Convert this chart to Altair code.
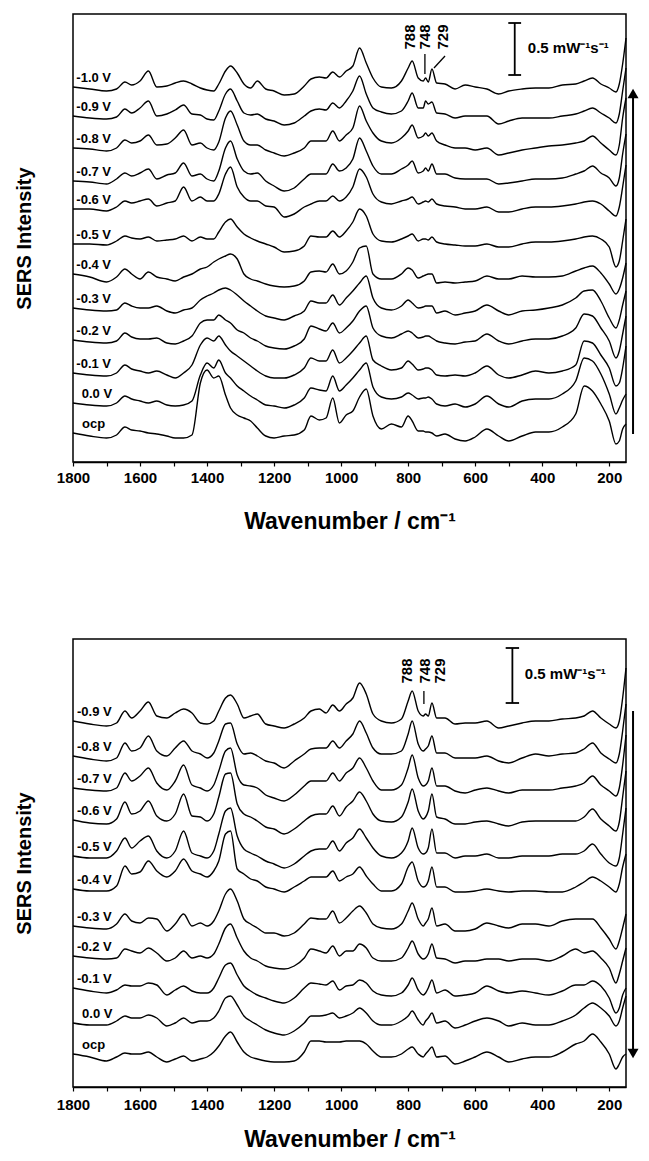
import altair as alt
import pandas as pd

FONT = "Liberation Sans"

# ---------------- data ----------------
wavenumber = [1800, 1750, 1700, 1670, 1645, 1625, 1600, 1575, 1550, 1520,
              1495, 1470, 1445, 1420, 1400, 1380, 1365, 1345, 1330, 1310,
              1290, 1270, 1250, 1225, 1200, 1170, 1140, 1110, 1090, 1065,
              1045, 1025, 1005, 985, 965, 945, 925, 905, 880, 850,
              820, 800, 788, 770, 755, 748, 740, 729, 715, 690,
              660, 630, 600, 565, 530, 500, 460, 420, 380, 340,
              300, 275, 250, 225, 200, 180, 170, 160, 150]

# upper panel (stacked, offsets in display intensity units)
top_labels = ["-1.0 V", "-0.9 V", "-0.8 V", "-0.7 V", "-0.6 V", "-0.5 V",
              "-0.4 V", "-0.3 V", "-0.2 V", "-0.1 V", "0.0 V", "ocp"]
top_offsets = [375, 346, 314, 281, 253, 218, 188, 154, 122, 89, 59, 29]

top_m10 = [0, -2, -4, -2, 5, 2, 6, 16, 0, 1, 4, 6, 3, -1, -3, -4, 3, 16, 21, 14,
           3, -1, 6, -2, -4, -8, -7, 1, 8, 10, 9, 15, 10, 16, 21, 39, 24, 9, 0, -1,
           6, 19, 26, 9, 6, 9, 5, 18, 4, 3, -2, 2, 0, -2, -7, -4, -2, -1, -1, 2,
           3, 6, 9, 3, -1, -5, 3, 23, 49]
top_m09 = [0, -2, -3, -1, 7, 3, 8, 15, 0, 2, 6, 11, 2, 1, -3, -4, 5, 22, 27, 15,
           3, 1, 2, -3, -5, -9, -7, 0, 5, 7, 6, 13, 8, 15, 25, 40, 22, 8, 4, 2,
           5, 15, 23, 8, 8, 15, 12, 14, 3, 2, -2, 0, 0, 0, -8, -5, -2, -2, -2, 0,
           2, 5, 8, 3, -2, -7, 2, 25, 48]
top_m08 = [0, -1, -3, 0, 8, 5, 7, 13, 3, 4, 10, 18, 3, 5, 0, -2, 6, 30, 37, 23,
           7, 3, 3, -2, -5, -8, -5, 0, 7, 7, 7, 17, 7, 13, 20, 42, 27, 15, 7, 5,
           10, 17, 23, 10, 12, 15, 12, 15, 7, 3, 0, 0, -2, 0, -7, -5, -2, 0, 2, 3,
           5, 7, 12, 5, -2, -7, 3, 30, 50]
top_m07 = [0, -1, -3, 2, 8, 5, 8, 12, 2, 6, 8, 18, 5, 7, 2, 0, 10, 33, 40, 22,
           10, 7, 8, 0, -5, -10, -7, 2, 7, 7, 7, 17, 10, 13, 22, 43, 30, 15, 7, 7,
           12, 16, 20, 8, 10, 13, 10, 17, 7, 7, 3, 2, 2, 2, -3, -2, 0, 2, 2, 3,
           7, 10, 15, 8, 3, -5, 3, 27, 47]
top_m06 = [0, 0, -2, 2, 8, 6, 8, 10, 3, 6, 8, 22, 8, 12, 8, 8, 15, 35, 42, 22,
           12, 8, 8, 3, 2, -8, -5, 2, 5, 8, 8, 13, 8, 12, 22, 40, 32, 15, 7, 5,
           8, 10, 12, 5, 7, 8, 7, 10, 5, 3, 2, 0, 0, 2, -3, -3, 0, 2, 2, 3,
           5, 7, 8, 5, -2, -7, 2, 22, 44]
top_m05 = [0, 0, -1, 3, 8, 6, 5, 7, 3, 4, 5, 8, 3, 7, 5, 5, 12, 22, 25, 17,
           10, 6, 3, 0, -3, -8, -7, -2, 8, 7, 7, 13, 7, 13, 22, 35, 28, 10, 3, 2,
           5, 8, 10, 3, 5, 5, 4, 7, 2, 0, -1, -2, -2, 0, -3, -3, 0, 2, 2, 3,
           5, 7, 8, 5, -3, -23, -17, 3, 25]
top_m04 = [0, -3, -8, -3, 5, 0, -5, 2, -3, -5, -7, -3, 0, 5, 7, 12, 15, 18, 20, 15,
           0, -5, -7, -10, -12, -13, -12, -7, 2, 3, 2, 10, 0, 3, 12, 26, 28, 0, -5, -5,
           0, 6, 4, -4, -2, -1, 0, 0, -9, -8, -9, -8, -7, -2, -5, -5, -2, -3, -3, -2,
           3, 6, 8, 1, -10, -20, -15, -4, 11]
top_m03 = [0, -2, -3, -2, 5, 2, 0, 0, 2, -3, -5, -2, 0, 8, 12, 15, 18, 20, 18, 13,
           7, 2, -3, -8, -10, -12, -8, -3, 7, 5, 5, 13, 3, 10, 17, 25, 32, 10, 0, -2,
           2, 8, 5, 0, 1, 2, 2, 2, -5, -3, -7, -5, -3, 3, -3, -7, -3, -2, 0, 3,
           10, 17, 18, 7, -10, -20, -12, 3, 17]
top_m02 = [0, -2, -3, -1, 7, 3, 1, 1, 2, -3, -4, -1, 4, 17, 20, 20, 25, 20, 17, 10,
           7, 2, -1, -6, -8, -9, -6, 1, 14, 11, 9, 17, 7, 12, 19, 29, 34, 12, 4, 2,
           6, 9, 7, 2, 3, 4, 4, 2, -1, -3, -4, -2, -1, 6, -1, -4, -1, 1, 1, 4,
           12, 26, 24, 12, -1, -18, -11, 6, 24]
top_m01 = [0, -2, -3, 0, 8, 4, 2, 0, 2, -2, -5, 0, 8, 28, 35, 32, 37, 28, 22, 17,
           12, 7, 2, -3, -5, -5, -2, 5, 15, 12, 12, 23, 10, 15, 22, 30, 37, 13, 7, 3,
           5, 12, 9, 3, 4, 5, 5, 3, -2, -3, -2, -3, 0, 7, -2, -5, -2, 2, 0, 2,
           8, 32, 30, 18, 5, -13, -10, 5, 27]
top_p00 = [0, -2, -3, 0, 7, 4, 2, 0, 2, -2, -3, -2, 2, 28, 40, 35, 43, 30, 25, 17,
           12, 7, 3, -2, -3, -5, -2, 5, 15, 13, 12, 27, 12, 18, 25, 33, 40, 16, 6, 4,
           6, 10, 8, 4, 5, 5, 6, 4, -1, -3, -1, -4, -1, 7, -1, -4, 2, 4, 4, 9,
           22, 45, 42, 29, 9, -11, -5, 3, 9]
top_ocp = [0, -3, -5, -2, 6, 3, 2, 0, -1, -3, -5, -5, -2, 50, 63, 55, 57, 38, 25, 18,
           15, 12, 5, -3, -5, -3, -2, 3, 17, 13, 15, 35, 10, 18, 22, 36, 44, 17, 4, 9,
           6, 17, 12, 2, 2, 1, 1, 0, -3, -1, -6, -8, -4, 4, -3, -8, -3, 1, 1, 6,
           19, 47, 42, 29, 12, -11, -8, 4, 9]
top_spectra = [top_m10, top_m09, top_m08, top_m07, top_m06, top_m05,
               top_m04, top_m03, top_m02, top_m01, top_p00, top_ocp]

# lower panel
bot_labels = ["-0.9 V", "-0.8 V", "-0.7 V", "-0.6 V", "-0.5 V", "-0.4 V",
              "-0.3 V", "-0.2 V", "-0.1 V", "0.0 V", "ocp"]
bot_offsets = [366, 331, 299, 267, 231, 198, 161, 131, 99, 64, 33]

bot_m09 = [0, -3, -5, -2, 10, 3, 10, 19, 5, 3, 8, 12, 8, -2, -3, 0, 10, 23, 26, 17,
           3, 5, 7, -3, -5, -7, -3, 3, 10, 12, 8, 16, 10, 17, 23, 38, 27, 7, 0, -2,
           2, 20, 30, 10, 5, 7, 5, 18, 3, 3, -3, -2, -2, 0, -7, -5, -2, 0, 0, 2,
           3, 5, 10, 3, -3, -7, 0, 23, 53]
bot_m08 = [0, -3, -5, -2, 13, 5, 8, 20, 5, 0, 8, 15, 5, 2, -2, 3, 15, 32, 33, 12,
           2, 3, 0, -5, -7, -12, -5, 2, 7, 8, 8, 15, 8, 15, 22, 35, 23, 8, 2, 2,
           5, 22, 35, 12, 5, 7, 10, 20, 3, 3, -2, -2, -2, 0, -5, -7, -2, 2, 0, 2,
           3, 7, 13, 3, -3, -7, 2, 25, 52]
bot_m07 = [0, -2, -3, 0, 15, 7, 12, 20, 5, -2, 7, 23, 3, 0, -3, 3, 17, 37, 40, 13,
           3, 2, 0, -7, -10, -13, -7, 2, 7, 7, 7, 15, 7, 15, 20, 30, 20, 7, -2, -2,
           3, 20, 33, 10, 2, 3, 7, 20, 2, 2, -3, -5, -2, 0, -3, -5, -2, -2, -2, 0,
           2, 5, 12, 3, -3, -8, 0, 23, 53]
bot_m06 = [0, -3, -4, 1, 18, 6, 9, 19, 4, -1, 6, 26, 4, 3, -1, 6, 23, 46, 47, 16,
           6, 3, -1, -7, -9, -14, -9, -1, 4, 6, 6, 14, 4, 13, 19, 28, 19, 6, -1, -2,
           3, 18, 31, 9, 1, 3, 9, 26, 3, 1, -4, -4, -2, -1, -4, -6, -2, -1, -1, -1,
           -1, 3, 11, 1, -6, -11, -2, 23, 49]
bot_m05 = [0, -2, -2, 5, 18, 8, 15, 20, 5, -2, 5, 25, 3, 0, -2, 5, 22, 45, 48, 20,
           7, 3, 0, -5, -8, -12, -8, 0, 5, 7, 7, 15, 5, 13, 18, 27, 18, 8, 0, -2,
           3, 15, 28, 8, 2, 3, 8, 27, 3, 3, -2, 0, 0, 2, -2, -2, 0, 0, 0, 2,
           2, 5, 12, 2, -7, -10, -2, 22, 48]
bot_m04 = [0, -2, -2, 3, 23, 15, 17, 28, 18, 12, 18, 30, 18, 15, 12, 18, 28, 55, 58, 20,
           15, 10, 8, 2, 0, -3, 2, 8, 12, 12, 12, 18, 8, 12, 15, 22, 13, 5, -2, -2,
           5, 22, 27, 8, 2, 3, 8, 22, 2, 2, -3, -3, -2, 0, -2, -3, -2, -2, -3, -3,
           2, 7, 12, 8, 2, -3, 5, 22, 35]
bot_m03 = [0, -2, -3, 2, 12, 5, 3, 8, 7, -5, 2, 12, 0, 3, 0, 5, 15, 32, 37, 25,
           7, 2, -2, -7, -7, -10, -7, 2, 8, 7, 7, 15, 3, 8, 15, 20, 13, 2, -2, -3,
           2, 15, 23, 7, 0, 3, 7, 18, 0, 2, -5, -5, -3, 3, 0, -2, 2, 2, 0, 5,
           7, 7, 7, -2, -13, -23, -15, -2, 12]
bot_m02 = [0, -2, -3, -2, 7, 5, 3, 8, 3, -5, -2, 5, -2, 0, -2, 2, 12, 28, 32, 18,
           5, -2, -5, -10, -12, -13, -10, -2, 7, 5, 3, 10, 0, 5, 5, 12, 8, -2, -5, -5,
           -2, 8, 15, 2, -3, -2, 2, 12, -2, -3, -7, -5, -5, -3, -3, -5, -3, -3, -5, 0,
           7, 3, 5, -2, -12, -27, -18, -5, 8]
bot_m01 = [0, -3, -5, -2, 3, 2, 2, 5, 3, -7, -2, 2, -3, -5, -5, 0, 10, 23, 25, 13,
           2, -3, -7, -10, -13, -15, -10, 0, 5, 4, 3, 7, -2, 2, 3, 8, 5, -3, -7, -8,
           -5, 3, 10, -2, -7, -5, 0, 8, -5, -2, -8, -7, -5, 2, -3, -5, -3, -5, -7, -3,
           3, 3, 7, 2, -10, -25, -20, -7, 0]
bot_p00 = [0, -2, -2, 2, 7, 5, 5, 8, 5, -3, 0, 5, 0, 2, 2, 5, 12, 25, 27, 18,
           7, 2, -2, -7, -10, -12, -8, 0, 7, 7, 8, 10, 5, 7, 10, 15, 10, 2, -2, -2,
           2, 7, 12, 3, -2, 2, 5, 10, 0, 2, -5, -2, 2, 5, 2, -3, 0, -2, -2, 2,
           8, 15, 20, 15, 7, -3, 2, 15, 27]
bot_ocp = [0, -3, -7, -3, 1, 0, 0, 2, -3, -8, -5, -2, -7, -5, -3, 2, 8, 18, 22, 12,
           2, -3, -5, -7, -8, -8, -7, 2, 13, 13, 12, 12, 12, 13, 13, 13, 10, 3, -3, -3,
           0, 5, 7, 0, -3, 0, 3, 7, -3, -2, -10, -7, -3, 2, -3, -8, -5, -3, -3, 2,
           10, 13, 20, 12, 0, -15, -10, -3, 0]
bot_spectra = [bot_m09, bot_m08, bot_m07, bot_m06, bot_m05, bot_m04,
               bot_m03, bot_m02, bot_m01, bot_p00, bot_ocp]

for s in top_spectra + bot_spectra:
    assert len(s) == len(wavenumber), len(s)

# annotations (data coordinates)
peak_names = ["788", "748", "729"]
top_peak_w = [795, 750, 697]
bot_peak_w = [802, 751, 705]
top_peak_y, bot_peak_y = 425, 416
top_leaders = [(750, 408, 750, 388), (690, 406, 723, 394)]
bot_leaders = [(753, 396, 753, 383)]
top_bar = dict(w=482, lo=387, hi=439, cap_a=501, cap_b=463, tw=443, ty=414)
bot_bar = dict(w=489, lo=384, hi=439, cap_a=509, cap_b=469, tw=452, ty=413)
bar_text = "0.5 mW\u207b\u00b9s\u207b\u00b9"
arrow_w = 129
top_arrow = dict(lo=28, hi=370, head=368.5, shape="triangle-up")
bot_arrow = dict(lo=31, hi=376, head=33.5, shape="triangle-down")

# ---------------- chart ----------------
xscale = alt.Scale(domain=[150, 1800], reverse=True, nice=False, zero=False)
yscale = alt.Scale(domain=[0, 448], nice=False, zero=False)
yaxis = alt.Axis(title="SERS Intensity", labels=False, ticks=False, domain=False,
                 grid=False, titleFontSize=20, titleFontWeight="bold",
                 titleColor="black", titlePadding=39)


def make_xaxis(label_pad, title_pad):
    return alt.Axis(values=list(range(1800, 199, -100)), format="d",
                    labelExpr="datum.value % 200 == 0 ? datum.label : ''",
                    title="Wavenumber / cm\u207b\u00b9", grid=False,
                    labelFontSize=15, labelFontWeight="bold", labelFlush=False,
                    labelOverlap=False, labelPadding=label_pad, labelColor="black",
                    tickSize=4, tickColor="black", tickWidth=1.2,
                    domainColor="black", domainWidth=1.5,
                    titleFontSize=23, titleFontWeight="bold", titleColor="black",
                    titlePadding=title_pad)


def panel(labels, offsets, spectra, label_ws, peak_w, peak_y, leaders, bar, arrow,
          label_pad, title_pad):
    xaxis = make_xaxis(label_pad, title_pad)

    def X():
        return alt.X("w:Q", scale=xscale, axis=xaxis)

    def Y():
        return alt.Y("y:Q", scale=yscale, axis=yaxis)

    rows = []
    for lab, off, spec in zip(labels, offsets, spectra):
        for w, v in zip(wavenumber, spec):
            rows.append({"series": lab, "w": w, "y": off + v})
    df = pd.DataFrame(rows)
    lines = alt.Chart(df).mark_line(color="black", strokeWidth=1.4,
                                    interpolate="monotone").encode(
        x=X(), y=Y(), detail="series:N")

    lab_df = pd.DataFrame({"text": labels, "w": label_ws,
                           "y": [o + 9 for o in offsets]})
    lab = alt.Chart(lab_df).mark_text(align="left", baseline="middle",
                                      fontSize=13, fontWeight="bold",
                                      color="black").encode(
        x=X(), y=Y(), text="text:N")

    pk_df = pd.DataFrame({"text": peak_names, "w": peak_w,
                          "y": [peak_y] * len(peak_names)})
    pk = alt.Chart(pk_df).mark_text(angle=270, align="center", baseline="middle",
                                    fontSize=15, fontWeight="bold",
                                    color="black").encode(
        x=X(), y=Y(), text="text:N")

    ld_df = pd.DataFrame([{"w": a, "y": b, "w2": c, "y2": d} for a, b, c, d in leaders])
    ld = alt.Chart(ld_df).mark_rule(color="black", strokeWidth=1.3).encode(
        x=X(), y=Y(), x2="w2:Q", y2="y2:Q")

    bar_df = pd.DataFrame([
        {"w": bar["w"], "y": bar["lo"], "w2": bar["w"], "y2": bar["hi"]},
        {"w": bar["cap_a"], "y": bar["lo"], "w2": bar["cap_b"], "y2": bar["lo"]},
        {"w": bar["cap_a"], "y": bar["hi"], "w2": bar["cap_b"], "y2": bar["hi"]},
    ])
    br = alt.Chart(bar_df).mark_rule(color="black", strokeWidth=1.8).encode(
        x=X(), y=Y(), x2="w2:Q", y2="y2:Q")
    bt = alt.Chart(pd.DataFrame({"text": [bar_text], "w": [bar["tw"]],
                                 "y": [bar["ty"]]})).mark_text(
        align="left", baseline="middle", fontSize=15, fontWeight="bold",
        color="black").encode(x=X(), y=Y(), text="text:N")

    ar_df = pd.DataFrame([{"w": arrow_w, "y": arrow["lo"], "w2": arrow_w,
                           "y2": arrow["hi"]}])
    ar = alt.Chart(ar_df).mark_rule(color="black", strokeWidth=2).encode(
        x=X(), y=Y(), x2="w2:Q", y2="y2:Q")
    ah = alt.Chart(pd.DataFrame({"w": [arrow_w], "y": [arrow["head"]]})).mark_point(
        shape=arrow["shape"], filled=True, size=121, color="black", opacity=1,
        strokeWidth=0).encode(x=X(), y=Y())

    return alt.layer(lines, lab, pk, ld, br, bt, ar, ah).properties(
        width=553, height=448)


top_label_w = [1790] * 10 + [1774, 1773]
bot_label_w = [1788] * 9 + [1773, 1773]

top = panel(top_labels, top_offsets, top_spectra, top_label_w, top_peak_w,
            top_peak_y, top_leaders, top_bar, top_arrow, 4, 25)
bot = panel(bot_labels, bot_offsets, bot_spectra, bot_label_w, bot_peak_w,
            bot_peak_y, bot_leaders, bot_bar, bot_arrow, 6, 16)

chart = alt.vconcat(top, bot, spacing=104).properties(
    padding={"left": 5, "top": 5, "right": 0, "bottom": 0}
).configure(font=FONT).configure_view(stroke="black", strokeWidth=1.5)

chart.save("out.html", embed_options={"renderer": "svg", "actions": False})
